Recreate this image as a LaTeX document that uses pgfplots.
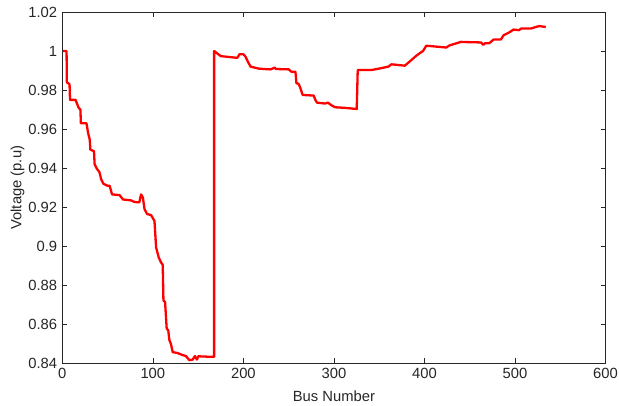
\documentclass[border=0pt]{standalone}
\usepackage{fontspec}
\setmainfont{Liberation Sans}
\usepackage{pgfplots}
\pgfplotsset{compat=1.18}

\definecolor{axisgray}{HTML}{262626}

% Bus voltage profile along the feeder
\pgfplotstableread{
bus   v
1     1.000
4.7   1.000
5     0.984
8     0.983
8.5   0.975
14.6  0.975
18    0.971
20    0.970
20.5  0.963
26.7  0.963
28.5  0.958
30.3  0.9546
31    0.9495
35    0.9487
35.7  0.942
38.2  0.9397
41    0.938
43    0.9342
45.5  0.932
50    0.931
52.3  0.931
54.9  0.9266
63.3  0.9262
67    0.924
76    0.9235
79.7  0.9227
85    0.9225
87    0.9266
89    0.925
90.8  0.919
93.7  0.9165
98    0.916
101.8 0.913
103.6 0.8994
106.5 0.8943
109   0.8918
110.9 0.8905
111.7 0.8722
113.5 0.8715
115.3 0.8578
117   0.857
118.3 0.8519
120   0.850
121.9 0.8458
127   0.8454
132.9 0.8443
136.6 0.8438
140.3 0.8417
144   0.842
146.5 0.8438
148.6 0.842
150.4 0.8438
153   0.8436
165.8 0.8434
167.7 0.8434
167.7 1.000
175   0.9974
193.3 0.9965
195.8 0.9984
199.8 0.9984
202.4 0.9971
205   0.9945
208   0.992
217   0.991
222.6 0.9908
230   0.9906
234.7 0.9915
236   0.9908
250.2 0.9906
253   0.9894
257.5 0.9894
258.6 0.9835
261   0.9832
263   0.981
265.5 0.9775
277.6 0.9772
279.5 0.975
281.2 0.9736
290.4 0.9731
293.2 0.9736
297.7 0.9721
301.4 0.9712
312.4 0.9709
325.2 0.9703
326.3 0.9903
341.7 0.9903
350.9 0.9911
360   0.992
363.6 0.9932
378.3 0.9925
385.6 0.9954
391   0.9976
398.5 1.0001
402   1.0027
407.5 1.0025
424   1.0018
427.8 1.0029
436.9 1.0042
440.5 1.0047
444.2 1.0046
462.5 1.0044
465   1.0032
467   1.004
471.6 1.004
476.4 1.0059
484.5 1.0059
487.4 1.0081
493.6 1.0095
498.3 1.011
504.6 1.0107
506.6 1.0115
517.5 1.0115
523   1.0123
526.7 1.0128
534   1.0123
}\busdata

\begin{document}
\fontsize{14.8bp}{17bp}\selectfont
\begin{tikzpicture}
\begin{axis}[
  scale only axis,
  width=544bp, height=352bp,
  xmin=0, xmax=600, ymin=0.84, ymax=1.02,
  xtick={0,100,...,600},
  ytick={0.84,0.86,0.88,0.9,0.92,0.94,0.96,0.98,1,1.02},
  /pgf/number format/assume math mode=true,
  tick align=inside,
  major tick length=5bp,
  axis line style={axisgray, line width=0.6bp},
  every tick/.style={axisgray, line width=0.6bp},
  tick label style={font=\fontsize{14.8bp}{17bp}\selectfont, text=axisgray},
  label style={font=\fontsize{14.8bp}{17bp}\selectfont, text=axisgray},
  xlabel={Bus Number},
  ylabel={Voltage (p.u)},
  xlabel style={at={(axis description cs:0.5,-0.0935)}, anchor=center},
  ylabel style={at={(axis description cs:-0.0824,0.5)}, anchor=center},
]
\addplot[red, line width=2.3bp, line join=round] table[x=bus, y=v] {\busdata};
\coordinate (sw) at (rel axis cs:0,0);
\coordinate (ne) at (rel axis cs:1,1);
\end{axis}
\pgfresetboundingbox
\path ([shift={(-62.4bp,-42bp)}]sw) rectangle ([shift={(13.5bp,12bp)}]ne);
\end{tikzpicture}
\end{document}
